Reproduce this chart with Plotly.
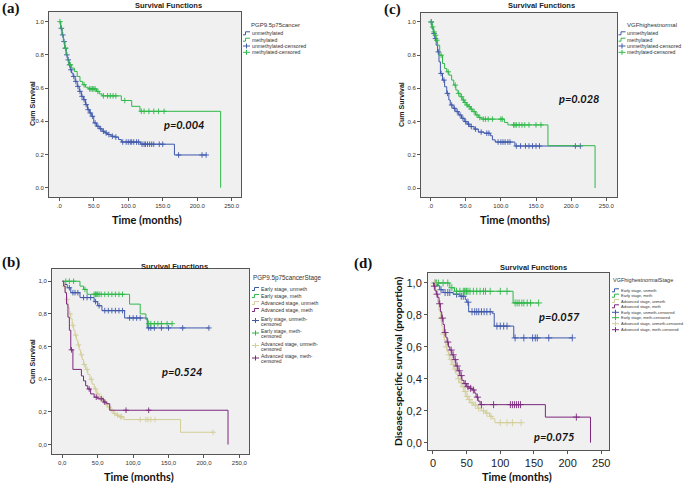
import numpy as np
import plotly.graph_objects as go

W, H = 686, 487

# ---------------- DATA ----------------
# Panel (a) PGP9.5p75cancer
a_unmeth_t = [0, 2, 4, 6, 8, 10, 12, 14, 16, 18, 20, 23, 26, 29, 32, 35, 38, 41, 44, 47, 50, 54, 58, 62, 66, 70, 75, 80, 86, 90, 118, 167]
a_unmeth_s = [1, 0.96, 0.92, 0.88, 0.84, 0.80, 0.77, 0.74, 0.71, 0.69, 0.67, 0.64, 0.61, 0.58, 0.55, 0.53, 0.50, 0.47, 0.45, 0.43, 0.39, 0.37, 0.355, 0.34, 0.33, 0.32, 0.31, 0.305, 0.29, 0.275, 0.262, 0.197]
a_unmeth_c = [3, 5, 7, 9, 11, 13, 15, 17, 21, 24, 27, 30, 33, 36, 39, 42, 45, 48, 52, 56, 60, 64, 68, 72, 77, 82, 92, 97, 100, 103, 105, 108, 112, 115, 120, 123, 125, 128, 131, 134, 137, 145, 150, 173, 207, 213]
a_meth_t = [0, 2, 4, 6, 8, 10, 12, 14, 18, 22, 26, 30, 34, 38, 42, 54, 58, 62, 90, 105, 117, 234]
a_meth_s = [1, 0.96, 0.92, 0.88, 0.84, 0.80, 0.77, 0.74, 0.72, 0.70, 0.67, 0.64, 0.62, 0.605, 0.595, 0.58, 0.565, 0.553, 0.525, 0.49, 0.46, 0.0]
a_meth_c = [1, 9, 16, 36, 44, 46, 48, 50, 52, 56, 64, 70, 74, 78, 82, 95, 119, 123, 130, 137, 144, 152]

# Panel (c) VGFhighestnormal
c_unmeth_t = [0, 2, 4, 6, 8, 10, 12, 14, 17, 20, 23, 26, 28, 32, 36, 40, 44, 48, 52, 56, 62, 68, 76, 85, 88, 92, 120]
c_unmeth_s = [1, 0.96, 0.93, 0.90, 0.86, 0.82, 0.76, 0.69, 0.65, 0.61, 0.57, 0.53, 0.50, 0.48, 0.46, 0.44, 0.42, 0.40, 0.385, 0.37, 0.355, 0.337, 0.33, 0.315, 0.29, 0.277, 0.253]
c_unmeth_c = [1, 5, 7, 11, 15, 19, 24, 30, 34, 38, 42, 46, 50, 54, 58, 64, 72, 80, 83, 96, 100, 103, 106, 110, 113, 122, 128, 135, 140, 145, 150, 155, 206, 213]
c_meth_t = [0, 2, 4, 6, 8, 10, 13, 17, 20, 23, 26, 30, 33, 36, 39, 42, 45, 48, 51, 54, 57, 60, 64, 68, 72, 105, 110, 167, 234]
c_meth_s = [1, 0.97, 0.94, 0.92, 0.89, 0.86, 0.80, 0.75, 0.72, 0.70, 0.68, 0.65, 0.62, 0.59, 0.57, 0.55, 0.53, 0.515, 0.50, 0.49, 0.475, 0.46, 0.44, 0.425, 0.415, 0.395, 0.38, 0.255, 0.0]
c_meth_c = [1, 3, 5, 7, 9, 15, 25, 35, 40, 44, 47, 49, 52, 55, 58, 62, 66, 70, 75, 78, 82, 88, 100, 102, 118, 120, 122, 126, 130, 134, 140, 150, 157]

# Panel (b) PGP9.5p75cancerStage
b_eu_t = [0, 2, 7, 12, 25, 45, 50, 56, 88, 120]
b_eu_s = [1, 0.98, 0.96, 0.93, 0.90, 0.875, 0.85, 0.82, 0.775, 0.714]
b_eu_c = [10, 15, 18, 22, 30, 35, 40, 47, 52, 60, 65, 70, 75, 80, 85, 95, 100, 105, 110, 122, 125, 130, 140, 150, 170, 207]
b_em_t = [0, 25, 30, 35, 95, 110, 118, 121]
b_em_s = [1, 0.97, 0.95, 0.92, 0.86, 0.80, 0.765, 0.74]
b_em_c = [5, 10, 16, 32, 45, 47, 48, 50, 52, 55, 60, 65, 70, 75, 80, 85, 122, 125, 130, 135, 140, 148, 155]
b_au_t = [0, 2, 4, 6, 8, 10, 12, 14, 16, 18, 20, 22, 24, 26, 28, 30, 33, 36, 39, 42, 45, 48, 52, 56, 60, 64, 68, 72, 76, 80, 87, 167]
b_au_s = [1, 0.97, 0.93, 0.89, 0.84, 0.80, 0.77, 0.73, 0.70, 0.67, 0.64, 0.61, 0.58, 0.55, 0.52, 0.49, 0.46, 0.43, 0.40, 0.37, 0.34, 0.31, 0.29, 0.27, 0.25, 0.23, 0.21, 0.19, 0.18, 0.17, 0.153, 0.075]
b_au_c = [3, 7, 11, 15, 19, 23, 27, 31, 35, 41, 47, 50, 55, 58, 62, 66, 70, 74, 78, 82, 84, 110, 118, 121, 125, 131, 213]
b_am_t = [0, 2, 4, 6, 8, 10, 12, 15, 27, 30, 33, 36, 40, 45, 50, 58, 62, 67, 234]
b_am_s = [1, 0.97, 0.93, 0.86, 0.78, 0.70, 0.58, 0.46, 0.42, 0.39, 0.36, 0.34, 0.31, 0.29, 0.28, 0.26, 0.25, 0.21, 0.0]
b_am_c = [13, 38, 48, 55, 60, 90, 122]

# Panel (d) VGFhighestnormalStage
d_eu_t = [0, 7, 10, 15, 30, 40, 48, 50, 53, 88, 91, 120]
d_eu_s = [1, 0.983, 0.958, 0.94, 0.93, 0.917, 0.896, 0.88, 0.82, 0.81, 0.73, 0.656]
d_eu_c = [3, 12, 18, 22, 25, 35, 42, 45, 52, 58, 62, 65, 68, 72, 76, 80, 85, 95, 100, 105, 110, 122, 135, 148, 152, 155, 172, 207]
d_em_t = [0, 25, 32, 119]
d_em_s = [1, 0.97, 0.948, 0.875]
d_em_c = [5, 8, 15, 22, 28, 35, 40, 45, 47, 49, 50, 52, 55, 60, 65, 70, 75, 78, 85, 100, 110, 122, 125, 128, 132, 135, 140, 145, 157]
d_au_t = [0, 3, 5, 7, 9, 11, 13, 15, 17, 19, 21, 23, 25, 28, 31, 34, 37, 40, 43, 46, 49, 52, 55, 60, 66, 72, 78, 84, 88, 92]
d_au_s = [1, 0.96, 0.92, 0.88, 0.83, 0.78, 0.73, 0.68, 0.64, 0.60, 0.57, 0.55, 0.52, 0.49, 0.46, 0.43, 0.40, 0.375, 0.35, 0.32, 0.29, 0.27, 0.25, 0.235, 0.215, 0.20, 0.185, 0.165, 0.15, 0.125]
d_au_c = [2, 12, 16, 20, 24, 27, 30, 33, 38, 42, 45, 48, 51, 54, 58, 63, 68, 75, 80, 86, 100, 110, 118, 131]
d_am_t = [0, 1, 3, 5, 7, 9, 11, 13, 15, 17, 19, 21, 23, 25, 28, 31, 34, 37, 40, 43, 46, 50, 54, 58, 62, 64, 67, 70, 167, 234]
d_am_s = [1, 0.98, 0.95, 0.93, 0.91, 0.87, 0.82, 0.78, 0.74, 0.69, 0.66, 0.63, 0.60, 0.58, 0.55, 0.52, 0.48, 0.45, 0.42, 0.39, 0.37, 0.35, 0.34, 0.33, 0.31, 0.285, 0.26, 0.238, 0.16, 0.0]
d_am_c = [2, 6, 10, 14, 18, 22, 27, 30, 33, 36, 39, 42, 48, 52, 56, 60, 66, 72, 90, 115, 118, 121, 124, 127, 130, 213]

# Labels / tick labels
legend_two = ["unmethylated", "methylated", "unmethylated-censored", "methylated-censored"]
legend_stage = ["Early stage, unmeth", "Early stage, meth", "Advanced stage, unmeth", "Advanced stage, meth"]
x_tickvals = [0, 50, 100, 150, 200, 250]
x_ticks_dot = [".0", "50.0", "100.0", "150.0", "200.0", "250.0"]
x_ticks_comma = ["0,0", "50,0", "100,0", "150,0", "200,0", "250,0"]
x_ticks_int = ["0", "50", "100", "150", "200", "250"]
y_tickvals = [0, 0.2, 0.4, 0.6, 0.8, 1.0]
y_ticks_dot = ["0.0", "0.2", "0.4", "0.6", "0.8", "1.0"]
y_ticks_comma = ["0,0", "0,2", "0,4", "0,6", "0,8", "1,0"]

BLUE, GREEN, BEIGE, PURPLE = "#3E58AC", "#2EB848", "#D3CE97", "#7C287D"


def px(x):
    return x / W


def py(y):
    return 1 - y / H


def surv_at(times, surv, t):
    i = np.searchsorted(np.asarray(times, float), t, side="right") - 1
    return float(np.asarray(surv)[i])


fig = go.Figure()

# panel geometry in pixels: (left, right, top, bottom), and axis ranges
panels = {
    "a": dict(box=(49, 241, 12, 197), xr=(-14.9, 263.5), yr=(-0.056, 1.058)),
    "c": dict(box=(421, 617, 13, 197), xr=(-13.6, 265.2), yr=(-0.054, 1.054)),
    "b": dict(box=(52, 249, 269, 454), xr=(-14.5, 263.6), yr=(-0.058, 1.075)),
    "d": dict(box=(428, 609, 273, 450), xr=(-7.4, 261.5), yr=(-0.046, 1.0625)),
}
axis_ids = {"a": "", "c": "2", "b": "3", "d": "4"}

series = {
    "a": [(a_unmeth_t, a_unmeth_s, a_unmeth_c, BLUE), (a_meth_t, a_meth_s, a_meth_c, GREEN)],
    "c": [(c_unmeth_t, c_unmeth_s, c_unmeth_c, BLUE), (c_meth_t, c_meth_s, c_meth_c, GREEN)],
    "b": [(b_eu_t, b_eu_s, b_eu_c, BLUE), (b_em_t, b_em_s, b_em_c, GREEN),
          (b_au_t, b_au_s, b_au_c, BEIGE), (b_am_t, b_am_s, b_am_c, PURPLE)],
    "d": [(d_eu_t, d_eu_s, d_eu_c, BLUE), (d_em_t, d_em_s, d_em_c, GREEN),
          (d_au_t, d_au_s, d_au_c, BEIGE), (d_am_t, d_am_s, d_am_c, PURPLE)],
}

for key, lst in series.items():
    aid = axis_ids[key]
    xa, ya = "x" + aid, "y" + aid
    msize = 5 if key == "d" else 4
    for t, s, c, col in lst:
        xs, ys = list(t), list(s)
        if max(c) > xs[-1]:
            xs.append(max(c))
            ys.append(ys[-1])
        fig.add_trace(go.Scatter(x=xs, y=ys, mode="lines", line=dict(color=col, width=1, shape="hv"),
                                 xaxis=xa, yaxis=ya, showlegend=False, hoverinfo="skip"))
        cy = [surv_at(t, s, ci) for ci in c]
        fig.add_trace(go.Scatter(x=c, y=cy, mode="markers",
                                 marker=dict(symbol="cross-thin", size=msize, line=dict(color=col, width=0.9)),
                                 xaxis=xa, yaxis=ya, showlegend=False, hoverinfo="skip"))

layout = dict(width=W, height=H, margin=dict(l=0, r=0, t=0, b=0), paper_bgcolor="white",
              plot_bgcolor="#F0F0F0", showlegend=False)

tick_font_small = dict(family="Liberation Sans, Arial", size=6, color="#333")
tick_font_big = dict(family="Liberation Sans, Arial", size=11, color="#222")
xtext = {"a": x_ticks_dot, "c": x_ticks_dot, "b": x_ticks_comma, "d": x_ticks_int}
ytext = {"a": y_ticks_dot, "c": y_ticks_dot, "b": y_ticks_comma, "d": y_ticks_comma}

for key, p in panels.items():
    l, r, t, b = p["box"]
    aid = axis_ids[key]
    f = tick_font_big if key == "d" else tick_font_small
    common = dict(showgrid=False, zeroline=False, showline=True, mirror=True, linecolor="#555",
                  linewidth=1, ticks="outside", ticklen=3, tickcolor="#555", tickfont=f)
    layout["xaxis" + aid] = dict(domain=[px(l), px(r)], range=list(p["xr"]), anchor="y" + aid,
                                 tickvals=x_tickvals, ticktext=xtext[key], **common)
    layout["yaxis" + aid] = dict(domain=[py(b), py(t)], range=list(p["yr"]), anchor="x" + aid,
                                 tickvals=y_tickvals, ticktext=ytext[key], **common)
fig.update_layout(**layout)

ann = []
shapes = []


def text(x, y, s, size, family="Liberation Sans, Arial", color="#222", xanchor="center",
         weight="normal", style="normal", angle=0):
    ann.append(dict(x=px(x), y=py(y), xref="paper", yref="paper", text=s, showarrow=False,
                    xanchor=xanchor, yanchor="middle", textangle=angle, borderpad=0,
                    font=dict(family=family, size=size, color=color, weight=weight, style=style)))


# panel letters
for lab, (x, y) in {"(a)": (11, 9), "(c)": (392, 9.5), "(b)": (11, 262), "(d)": (363, 263)}.items():
    text(x, y, lab, 15, family="Liberation Serif, Times New Roman", color="#111", weight="bold")

# titles
for (x, y) in [(168, 6), (541, 6), (174, 266), (533, 267)]:
    text(x, y, "Survival Functions", 7.5, weight="bold", color="#222")

# x axis titles
for (x, y) in [(147, 219), (515, 219), (139, 476), (517, 476)]:
    text(x, y, "Time (months)", 11, family="Lato", weight="bold", color="#111")

# y axis titles
for (x, y) in [(32, 104), (401, 105), (32, 362)]:
    text(x, y, "Cum Survival", 7, weight="bold", angle=-90, color="#222")
text(398, 362, "Disease-specific survival (proportion)", 10.3, family="Lato", weight="bold", angle=-90, color="#111")

# p-values
for (x, y, s) in [(184, 124, "p=0.004"), (579, 99, "p=0.028"), (182, 371, "p=0.524"),
                  (559, 316, "p=0.057"), (554, 436, "p=0.075")]:
    text(x, y, s, 11, family="Lato", weight="bold", style="italic", color="#111")


def icon_line(x0, y, col, w=7):
    shapes.append(dict(type="path", xref="paper", yref="paper",
                       path=f"M {px(x0)},{py(y+1.5)} L {px(x0+2.5)},{py(y+1.5)} L {px(x0+2.5)},{py(y-1.5)} L {px(x0+w)},{py(y-1.5)}",
                       line=dict(color=col, width=1)))


def icon_cens(x0, y, col, w=7):
    shapes.append(dict(type="line", xref="paper", yref="paper", x0=px(x0), x1=px(x0 + w), y0=py(y), y1=py(y),
                       line=dict(color=col, width=1)))
    shapes.append(dict(type="line", xref="paper", yref="paper", x0=px(x0 + w / 2), x1=px(x0 + w / 2),
                       y0=py(y - 2.5), y1=py(y + 2.5), line=dict(color=col, width=1)))


# legend (a) and (c)
for (ix, tx, title) in [(243, 250.5, "PGP9.5p75cancer"), (618.5, 626, "VGFhighestnormal")]:
    text(ix + 7, 24.5, title, 6, xanchor="left", color="#333")
    rows = [33.3, 39.7, 46, 52.3]
    cols = [BLUE, GREEN, BLUE, GREEN]
    for i, (lab, yy, col) in enumerate(zip(legend_two, rows, cols)):
        if i < 2:
            icon_line(ix, yy, col)
        else:
            icon_cens(ix, yy, col)
        text(tx, yy, lab, 5.2, xanchor="left", color="#333")

# legend (b)
text(252, 278, "PGP9.5p75cancerStage", 6.3, xanchor="left", color="#333")
cols4 = [BLUE, GREEN, BEIGE, PURPLE]
rows_b = [289, 296, 303, 310]
for lab, yy, col in zip(legend_stage, rows_b, cols4):
    icon_line(252, yy, col)
    text(260, yy, lab, 5.2, xanchor="left", color="#333")
rows_b2 = [318.5, 331, 343.5, 356]
for lab, yy, col in zip(legend_stage, rows_b2, cols4):
    icon_cens(252, yy + 2, col)
    text(260, yy, lab + "-", 5, xanchor="left", color="#333")
    text(260, yy + 5, "censored", 5, xanchor="left", color="#333")

# legend (d)
text(612, 280, "VGFhighestnormalStage", 5.5, xanchor="left", color="#333")
rows_d = [290.3, 295.7, 301, 306.3, 312.3, 317.7, 323.7, 329.7]
for i, yy in enumerate(rows_d):
    col = cols4[i % 4]
    lab = legend_stage[i % 4] + ("" if i < 4 else "-censored")
    if i < 4:
        icon_line(612, yy, col, w=7)
    else:
        icon_cens(612, yy, col, w=7)
    text(620, yy, lab, 4, xanchor="left", color="#333")

fig.update_layout(annotations=ann, shapes=shapes)
fig.write_html("out.html", config={"displayModeBar": False},
               post_script="document.body.style.margin='0px';")
